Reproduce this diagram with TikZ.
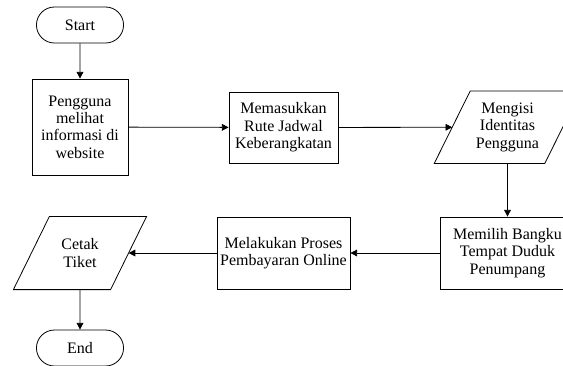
\documentclass[tikz,border=0pt]{standalone}
\usepackage{fontspec}
\setmainfont{Liberation Serif}
\usetikzlibrary{shapes,arrows.meta,positioning,calc}

\begin{document}
\begin{tikzpicture}[x=0.75pt, y=-0.75pt, font=\fontsize{12}{13}\selectfont,
    proses/.style={draw, line width=0.6pt, rectangle, align=center, inner sep=1pt},
    terminal/.style={draw, line width=0.6pt, rounded rectangle, minimum width=72pt, minimum height=27pt},
    data/.style={rectangle, align=center, inner sep=1pt},
    garis/.style={line width=0.6pt},
    alur/.style={-{Triangle[length=5pt,width=5pt]}, line width=0.6pt}]
    \useasboundingbox (0,0) rectangle (563,365);

    % Baris atas
    \node [terminal] (start) at (80,25) {Start};
    \node [proses, minimum width=72pt, minimum height=72pt] (lihat) at (80,127) {Pengguna\\melihat\\informasi di\\website};
    \node [proses, minimum width=81.75pt, minimum height=53.25pt] (rute) at (283.5,127.5) {Memasukkan\\Rute Jadwal\\Keberangkatan};
    \node [data, minimum width=82.5pt, minimum height=54pt] (identitas) at (507.5,127.2) {Mengisi\\Identitas\\Pengguna};
    \draw [garis] ([xshift=13.5pt]identitas.north west) -- ([xshift=13.5pt]identitas.north east)
        -- ([xshift=-13.5pt]identitas.south east) -- ([xshift=-13.5pt]identitas.south west) -- cycle;

    % Baris bawah
    \node [proses, minimum width=100.5pt, minimum height=54pt] (bangku) at (507.5,253) {Memilih Bangku\\Tempat Duduk\\Penumpang};
    \node [proses, minimum width=99.75pt, minimum height=54pt] (bayar) at (283.5,253) {Melakukan Proses\\Pembayaran Online};
    \node [data, minimum width=72.5pt, minimum height=54.5pt] (cetak) at (80,253) {Cetak\\Tiket};
    \draw [garis] ([xshift=13.5pt]cetak.north west) -- ([xshift=13.5pt]cetak.north east)
        -- ([xshift=-13.5pt]cetak.south east) -- ([xshift=-13.5pt]cetak.south west) -- cycle;
    \node [terminal] (selesai) at (80,348) {End};

    \draw [alur] (start) -- (lihat);
    \draw [alur] (lihat) -- (rute);
    \draw [alur] (rute) -- (identitas);
    \draw [alur] (identitas) -- (bangku);
    \draw [alur] (bangku) -- (bayar);
    \draw [alur] (bayar) -- (cetak);
    \draw [alur] (cetak) -- (selesai);
\end{tikzpicture}
\end{document}
